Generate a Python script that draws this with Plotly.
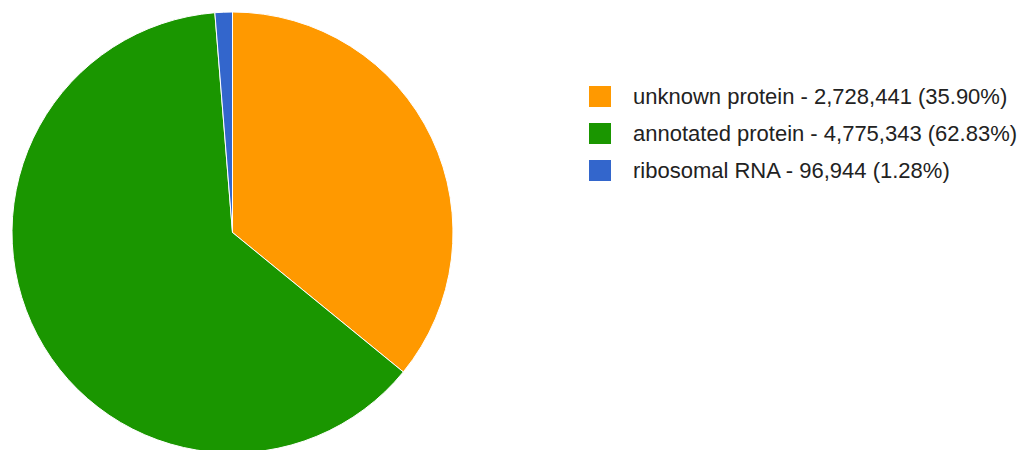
import plotly.graph_objects as go

labels = ["unknown protein", "annotated protein", "ribosomal RNA"]
values = [2728441, 4775343, 96944]
colors = ["#ff9900", "#1a9600", "#3366cc"]

W, H = 1028, 465
total = sum(values)

fig = go.Figure(go.Pie(
    labels=labels,
    values=values,
    sort=False,
    direction="clockwise",
    rotation=0,
    textinfo="none",
    hoverinfo="label+value+percent",
    marker=dict(colors=colors, line=dict(color="white", width=1)),
    domain=dict(x=[12 / W, 453 / W], y=[0, 1]),
    showlegend=False,
))

# custom legend (large swatches like the reference)
sw_x0, sw_x1, txt_x = 589, 611, 631
row_y = [96.5, 133.5, 170.5]
sw = 21
for i, (lab, val, col) in enumerate(zip(labels, values, colors)):
    cy = row_y[i]
    fig.add_shape(type="rect", xref="paper", yref="paper",
                  x0=sw_x0 / W, x1=sw_x1 / W,
                  y0=1 - (cy + sw / 2) / H, y1=1 - (cy - sw / 2) / H,
                  fillcolor=col, line=dict(width=0))
    pct = val / total * 100
    fig.add_annotation(xref="paper", yref="paper", x=txt_x / W, y=1 - cy / H,
                       xanchor="left", yanchor="middle", showarrow=False,
                       text=f"{lab} - {val:,} ({pct:.2f}%)",
                       font=dict(family="Arial, Liberation Sans", size=22, color="#222222"))

fig.update_layout(width=W, height=H, margin=dict(l=0, r=0, t=0, b=0),
                  paper_bgcolor="white", plot_bgcolor="white")

fig.write_html("out.html", config={"displayModeBar": False},
               post_script="document.body.style.margin='0';document.body.style.overflow='hidden';")
